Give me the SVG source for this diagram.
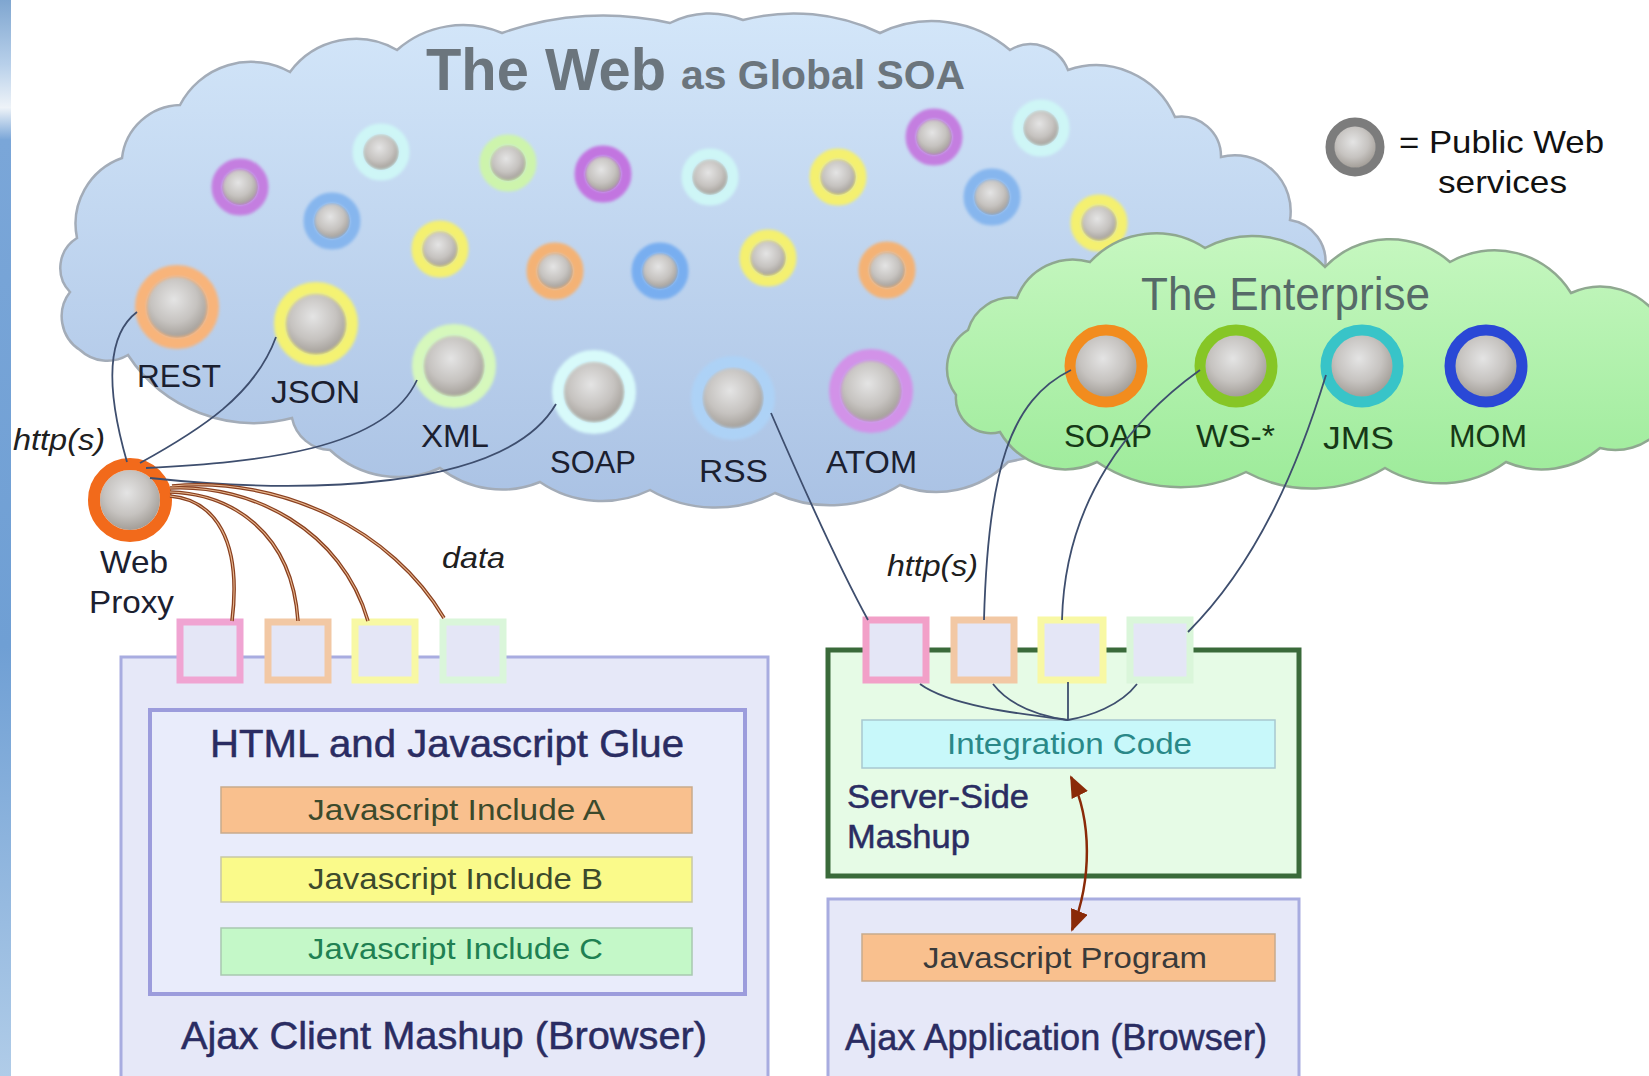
<svg xmlns="http://www.w3.org/2000/svg" width="1649" height="1076" viewBox="0 0 1649 1076">
<defs>
  <linearGradient id="strip" x1="0" y1="0" x2="0" y2="1">
    <stop offset="0" stop-color="#7fa6d0"/>
    <stop offset="0.06" stop-color="#b8d0ea"/>
    <stop offset="0.1" stop-color="#eef3f8"/>
    <stop offset="0.13" stop-color="#7aa6d8"/>
    <stop offset="0.6" stop-color="#6f9fd4"/>
    <stop offset="1" stop-color="#b0cce8"/>
  </linearGradient>
  <linearGradient id="webfill" x1="0" y1="0" x2="0" y2="1">
    <stop offset="0" stop-color="#d3e6f9"/>
    <stop offset="1" stop-color="#aac2e4"/>
  </linearGradient>
  <linearGradient id="entfill" x1="0" y1="0" x2="0" y2="1">
    <stop offset="0" stop-color="#c6f7c0"/>
    <stop offset="1" stop-color="#9deb9a"/>
  </linearGradient>
  <radialGradient id="ball" cx="0.45" cy="0.38" r="0.62">
    <stop offset="0" stop-color="#e4e4e4"/>
    <stop offset="0.6" stop-color="#c6c3c0"/>
    <stop offset="1" stop-color="#a39e98"/>
  </radialGradient>
  <filter id="soft" x="-20%" y="-20%" width="140%" height="140%">
    <feGaussianBlur stdDeviation="1.6"/>
  </filter>
  <marker id="ah" viewBox="0 0 22 18" refX="20" refY="9" markerWidth="22" markerHeight="18" markerUnits="userSpaceOnUse" orient="auto-start-reverse">
    <path d="M0,0 L22,9 L0,18 z" fill="#8a2a08"/>
  </marker>
</defs>
<style>
  .lbl { font-family: "Liberation Sans", Arial, sans-serif; font-size: 32px; fill: #1b2030; }
  .elbl { font-family: "Liberation Sans", Arial, sans-serif; font-size: 32px; fill: #163816; }
  .it { font-family: "Liberation Sans", Arial, sans-serif; font-style: italic; font-size: 29px; fill: #202020; }
  .navy { font-family: "Liberation Sans", Arial, sans-serif; fill: #2a2c62; stroke: #2a2c62; stroke-width: 0.5; }
  .bar { font-family: "Liberation Sans", Arial, sans-serif; font-size: 30px; }
  .ball { fill: url(#ball); }
  .ring { fill: none; filter: url(#soft); }
  .ering { fill: none; }
  .conn { fill: none; stroke: #3e4e6e; stroke-width: 1.8; }
  .data1 { fill: none; stroke: #8a4020; stroke-width: 3.6; }
  .data2 { fill: none; stroke: #e8b890; stroke-width: 1.1; }
  .port { fill: #e4e6f6; stroke-width: 7; }
</style>

<rect x="0" y="0" width="1649" height="1076" fill="#ffffff"/>
<rect x="0" y="0" width="11" height="1076" fill="url(#strip)"/>

<!-- The Web cloud -->
<g id="web-cloud">
  <path d="M80,350 A40,40 0 0 1 70,292 A35,35 0 0 1 77,238 A70,70 0 0 1 122,158 A60,60 0 0 1 180,105 A80,80 0 0 1 290,72 A82,82 0 0 1 397,50 A100,100 0 0 1 502,33 A300,300 0 0 1 670,23 A87,87 0 0 1 743,20 A200,200 0 0 1 880,33 A120,120 0 0 1 1010,50 A40,40 0 0 1 1068,70 A86,86 0 0 1 1175,117 A40,40 0 0 1 1221,157 A56,56 0 0 1 1290,220 A42,42 0 0 1 1325,268 L1330,330 L1300,400 L1008,462 A100,100 0 0 1 900,485 A130,130 0 0 1 775,493 A130,130 0 0 1 650,490 A110,110 0 0 1 540,482 A100,100 0 0 1 440,468 A100,100 0 0 1 330,450 A40,40 0 0 1 292,418 A150,150 0 0 1 128,355 A40,40 0 0 1 80,350 Z" fill="url(#webfill)" stroke="#a3acb8" stroke-width="2.5"/>
  <text x="426" y="90" font-family="Liberation Sans, Arial, sans-serif" font-weight="bold" font-size="60" fill="#6b757d" textLength="240" lengthAdjust="spacingAndGlyphs">The Web</text>
  <text x="681" y="89" font-family="Liberation Sans, Arial, sans-serif" font-weight="bold" font-size="40" fill="#6b757d" textLength="284" lengthAdjust="spacingAndGlyphs">as Global SOA</text>
</g>

<!-- small public services -->
<g id="svc-small">
  <g id="s1"><circle class="ball" cx="240" cy="187" r="18"/><circle class="ring" cx="240" cy="187" r="23" stroke="#c47ee0" stroke-width="11"/></g>
  <g id="s2"><circle class="ball" cx="381" cy="152" r="18"/><circle class="ring" cx="381" cy="152" r="23" stroke="#cef6f6" stroke-width="11"/></g>
  <g id="s3"><circle class="ball" cx="332" cy="221" r="18"/><circle class="ring" cx="332" cy="221" r="23" stroke="#86b6ee" stroke-width="11"/></g>
  <g id="s4"><circle class="ball" cx="508" cy="163" r="18"/><circle class="ring" cx="508" cy="163" r="23" stroke="#cdf4ac" stroke-width="11"/></g>
  <g id="s5"><circle class="ball" cx="603" cy="174" r="18"/><circle class="ring" cx="603" cy="174" r="23" stroke="#c274e0" stroke-width="11"/></g>
  <g id="s6"><circle class="ball" cx="440" cy="249" r="18"/><circle class="ring" cx="440" cy="249" r="23" stroke="#f4f070" stroke-width="11"/></g>
  <g id="s7"><circle class="ball" cx="710" cy="177" r="18"/><circle class="ring" cx="710" cy="177" r="23" stroke="#cef6f6" stroke-width="11"/></g>
  <g id="s8"><circle class="ball" cx="555" cy="271" r="18"/><circle class="ring" cx="555" cy="271" r="23" stroke="#f4b274" stroke-width="11"/></g>
  <g id="s9"><circle class="ball" cx="660" cy="271" r="18"/><circle class="ring" cx="660" cy="271" r="23" stroke="#78aef0" stroke-width="11"/></g>
  <g id="s10"><circle class="ball" cx="838" cy="177" r="18"/><circle class="ring" cx="838" cy="177" r="23" stroke="#f4f070" stroke-width="11"/></g>
  <g id="s11"><circle class="ball" cx="768" cy="258" r="18"/><circle class="ring" cx="768" cy="258" r="23" stroke="#f4f070" stroke-width="11"/></g>
  <g id="s12"><circle class="ball" cx="934" cy="137" r="18"/><circle class="ring" cx="934" cy="137" r="23" stroke="#c47ee0" stroke-width="11"/></g>
  <g id="s13"><circle class="ball" cx="1041" cy="128" r="18"/><circle class="ring" cx="1041" cy="128" r="23" stroke="#cef6f6" stroke-width="11"/></g>
  <g id="s14"><circle class="ball" cx="992" cy="197" r="18"/><circle class="ring" cx="992" cy="197" r="23" stroke="#86b6ee" stroke-width="11"/></g>
  <g id="s15"><circle class="ball" cx="887" cy="270" r="18"/><circle class="ring" cx="887" cy="270" r="23" stroke="#f4b274" stroke-width="11"/></g>
  <g id="s16"><circle class="ball" cx="1099" cy="223" r="18"/><circle class="ring" cx="1099" cy="223" r="23" stroke="#f4f070" stroke-width="11"/></g>
</g>

<!-- labelled public services -->
<g id="rest"><circle class="ball" cx="177" cy="307" r="31"/><circle class="ring" cx="177" cy="307" r="36" stroke="#f8b47a" stroke-width="12"/><text class="lbl" x="137" y="387" textLength="84" lengthAdjust="spacingAndGlyphs">REST</text></g>
<g id="json"><circle class="ball" cx="316" cy="324" r="31"/><circle class="ring" cx="316" cy="324" r="36" stroke="#f4f272" stroke-width="12"/><text class="lbl" x="271" y="403" textLength="89" lengthAdjust="spacingAndGlyphs">JSON</text></g>
<g id="xml"><circle class="ball" cx="454" cy="366" r="31"/><circle class="ring" cx="454" cy="366" r="36" stroke="#d6f8bc" stroke-width="12"/><text class="lbl" x="421" y="447" textLength="68" lengthAdjust="spacingAndGlyphs">XML</text></g>
<g id="soap"><circle class="ball" cx="594" cy="392" r="31"/><circle class="ring" cx="594" cy="392" r="36" stroke="#d8fafa" stroke-width="12"/><text class="lbl" x="550" y="473" textLength="86" lengthAdjust="spacingAndGlyphs">SOAP</text></g>
<g id="rss"><circle class="ball" cx="733" cy="398" r="31"/><circle class="ring" cx="733" cy="398" r="36" stroke="#add2f6" stroke-width="12"/><text class="lbl" x="699" y="482" textLength="69" lengthAdjust="spacingAndGlyphs">RSS</text></g>
<g id="atom"><circle class="ball" cx="871" cy="391" r="31"/><circle class="ring" cx="871" cy="391" r="36" stroke="#d292e8" stroke-width="12"/><text class="lbl" x="826" y="473" textLength="91" lengthAdjust="spacingAndGlyphs">ATOM</text></g>

<!-- Enterprise cloud -->
<g id="enterprise-cloud">
  <path d="M956,395 A45,45 0 0 1 968,330 A45,45 0 0 1 1017,298 A60,60 0 0 1 1090,262 A90,90 0 0 1 1205,248 A100,100 0 0 1 1325,267 A90,90 0 0 1 1450,262 A90,90 0 0 1 1571,293 A70,70 0 0 1 1660,320 L1660,430 A60,60 0 0 1 1600,448 A90,90 0 0 1 1506,462 A110,110 0 0 1 1385,468 A140,140 0 0 1 1246,472 A150,150 0 0 1 1097,462 A75,75 0 0 1 1000,432 A35,35 0 0 1 956,395 Z" fill="url(#entfill)" stroke="#8fa890" stroke-width="2.5"/>
  <text x="1141" y="310" font-family="Liberation Sans, Arial, sans-serif" font-size="46" fill="#566a68" textLength="289" lengthAdjust="spacingAndGlyphs">The Enterprise</text>
</g>
<g id="e-soap"><circle class="ball" cx="1106" cy="366" r="31"/><circle class="ering" cx="1106" cy="366" r="36" stroke="#f28c1e" stroke-width="11"/><text class="elbl" x="1064" y="447" textLength="88" lengthAdjust="spacingAndGlyphs">SOAP</text></g>
<g id="e-ws"><circle class="ball" cx="1236" cy="366" r="31"/><circle class="ering" cx="1236" cy="366" r="36" stroke="#86c626" stroke-width="11"/><text class="elbl" x="1196" y="447" textLength="79" lengthAdjust="spacingAndGlyphs">WS-*</text></g>
<g id="e-jms"><circle class="ball" cx="1362" cy="366" r="31"/><circle class="ering" cx="1362" cy="366" r="36" stroke="#38c4c8" stroke-width="11"/><text class="elbl" x="1323" y="449" textLength="71" lengthAdjust="spacingAndGlyphs">JMS</text></g>
<g id="e-mom"><circle class="ball" cx="1486" cy="366" r="31"/><circle class="ering" cx="1486" cy="366" r="36" stroke="#2a48d6" stroke-width="11"/><text class="elbl" x="1449" y="447" textLength="78" lengthAdjust="spacingAndGlyphs">MOM</text></g>

<!-- Legend -->
<g id="legend">
  <circle class="ball" cx="1355" cy="147" r="21"/>
  <circle class="ering" cx="1355" cy="147" r="25" stroke="#7c7c7c" stroke-width="9"/>
  <text x="1399" y="153" font-family="Liberation Sans, Arial, sans-serif" font-size="32" fill="#111" textLength="205" lengthAdjust="spacingAndGlyphs">= Public Web</text>
  <text x="1438" y="193" font-family="Liberation Sans, Arial, sans-serif" font-size="32" fill="#111" textLength="129" lengthAdjust="spacingAndGlyphs">services</text>
</g>

<!-- Left mashup -->
<g id="ajax-client">
  <rect x="121" y="657" width="647" height="440" fill="#e6e8f8" stroke="#a8ace0" stroke-width="3"/>
  <text class="navy" x="181" y="1049" font-size="38" textLength="526" lengthAdjust="spacingAndGlyphs">Ajax Client Mashup (Browser)</text>
</g>
<g id="glue">
  <rect x="150" y="710" width="595" height="284" fill="#e9ecfb" stroke="#9c9cdc" stroke-width="4"/>
  <text class="navy" x="210" y="757" font-size="38" textLength="474" lengthAdjust="spacingAndGlyphs">HTML and Javascript Glue</text>
</g>
<g id="inc-a"><rect x="221" y="787" width="471" height="46" fill="#f9c08e" stroke="#c8aa8c" stroke-width="1.5"/><text class="bar" x="308" y="820" fill="#3c4a2c" textLength="297" lengthAdjust="spacingAndGlyphs">Javascript Include A</text></g>
<g id="inc-b"><rect x="221" y="857" width="471" height="45" fill="#fafa8a" stroke="#c8c8a4" stroke-width="1.5"/><text class="bar" x="308" y="889" fill="#3c4a2c" textLength="295" lengthAdjust="spacingAndGlyphs">Javascript Include B</text></g>
<g id="inc-c"><rect x="221" y="928" width="471" height="47" fill="#c4f8c8" stroke="#a8c8b0" stroke-width="1.5"/><text class="bar" x="308" y="959" fill="#208052" textLength="295" lengthAdjust="spacingAndGlyphs">Javascript Include C</text></g>

<!-- Right: server side -->
<g id="server-side">
  <rect x="828" y="650" width="471" height="226" fill="#e6fbe6" stroke="#3a6a3a" stroke-width="5"/>
  <text class="navy" x="847" y="808" font-size="34" textLength="182" lengthAdjust="spacingAndGlyphs">Server-Side</text>
  <text class="navy" x="847" y="848" font-size="34" textLength="123" lengthAdjust="spacingAndGlyphs">Mashup</text>
</g>
<g id="integration"><rect x="862" y="720" width="413" height="48" fill="#c8f8fa" stroke="#a8c8d0" stroke-width="1.5"/><text class="bar" x="947" y="754" fill="#2a8888" textLength="245" lengthAdjust="spacingAndGlyphs">Integration Code</text></g>
<g id="ajax-app">
  <rect x="828" y="899" width="471" height="200" fill="#e6e8f8" stroke="#a8ace0" stroke-width="3"/>
  <text class="navy" x="845" y="1050" font-size="36" textLength="422" lengthAdjust="spacingAndGlyphs">Ajax Application (Browser)</text>
</g>
<g id="js-program"><rect x="862" y="934" width="413" height="47" fill="#f9c08e" stroke="#c8aa8c" stroke-width="1.5"/><text class="bar" x="923" y="968" fill="#3a3a3a" textLength="284" lengthAdjust="spacingAndGlyphs">Javascript Program</text></g>

<!-- Ports -->
<g id="ports-left">
  <rect class="port" x="180" y="622" width="60" height="58" stroke="#f0a4d2"/>
  <rect class="port" x="268" y="622" width="60" height="58" stroke="#f2c8a4"/>
  <rect class="port" x="355" y="622" width="60" height="58" stroke="#f8f8a4"/>
  <rect class="port" x="443" y="622" width="60" height="58" stroke="#daf6da"/>
</g>
<g id="ports-right">
  <rect class="port" x="866" y="620" width="60" height="60" stroke="#f2a0c8"/>
  <rect class="port" x="954" y="620" width="60" height="60" stroke="#f2c8a4"/>
  <rect class="port" x="1041" y="620" width="62" height="60" stroke="#f8f8a4"/>
  <rect class="port" x="1130" y="620" width="60" height="60" stroke="#daf6da"/>
</g>

<!-- Web proxy -->
<g id="web-proxy">
  <circle class="ball" cx="130" cy="500" r="30"/>
  <circle class="ering" cx="130" cy="500" r="36" stroke="#f26a1b" stroke-width="12"/>
  <text class="lbl" x="100" y="573" textLength="68" lengthAdjust="spacingAndGlyphs">Web</text>
  <text class="lbl" x="89" y="613" textLength="85" lengthAdjust="spacingAndGlyphs">Proxy</text>
</g>

<!-- Connectors -->
<g id="connectors">
  <path class="conn" d="M127,462 C112,410 100,340 137,312"/>
  <path class="conn" d="M140,463 C200,430 255,395 276,337"/>
  <path class="conn" d="M146,468 C260,462 385,450 417,380"/>
  <path class="conn" d="M150,478 C300,494 505,492 556,404"/>
  <path class="conn" d="M771,413 C800,480 835,560 868,620"/>
  <path class="conn" d="M1071,370 C1010,400 988,470 984,620"/>
  <path class="conn" d="M1200,370 C1130,420 1065,500 1062,620"/>
  <path class="conn" d="M1326,375 C1300,460 1260,560 1188,632"/>
  <path class="conn" d="M920,684 C950,706 1020,714 1068,720"/>
  <path class="conn" d="M993,684 C1010,706 1040,716 1068,720"/>
  <path class="conn" d="M1068,682 L1068,720"/>
  <path class="conn" d="M1137,684 C1120,706 1090,716 1068,720"/>
  <path class="data1" d="M170,496 C215,500 242,540 232,621"/>
  <path class="data1" d="M170,492 C232,494 292,532 298,621"/>
  <path class="data1" d="M170,488 C252,484 342,530 368,621"/>
  <path class="data1" d="M172,486 C282,476 392,530 444,618"/>
  <path class="data2" d="M170,496 C215,500 242,540 232,621"/>
  <path class="data2" d="M170,492 C232,494 292,532 298,621"/>
  <path class="data2" d="M170,488 C252,484 342,530 368,621"/>
  <path class="data2" d="M172,486 C282,476 392,530 444,618"/>
  <path d="M1071,777 C1092,820 1092,880 1072,930" fill="none" stroke="#8a2a08" stroke-width="2.5" marker-start="url(#ah)" marker-end="url(#ah)"/>
  <text class="it" x="13" y="450" textLength="92" lengthAdjust="spacingAndGlyphs">http(s)</text>
  <text class="it" x="442" y="568" textLength="63" lengthAdjust="spacingAndGlyphs">data</text>
  <text class="it" x="887" y="576" textLength="91" lengthAdjust="spacingAndGlyphs">http(s)</text>
</g>
</svg>
